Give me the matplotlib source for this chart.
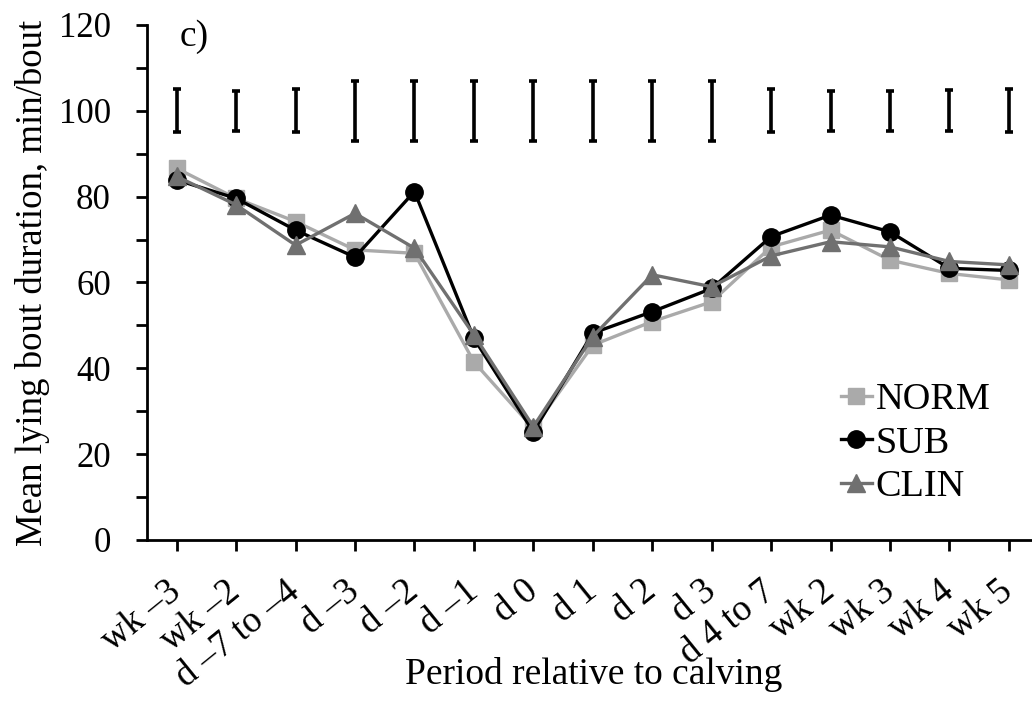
import matplotlib
matplotlib.use("Agg")
import matplotlib.pyplot as plt
from matplotlib.ticker import MultipleLocator

# periods relative to calving
periods = ["wk \u20133", "wk \u20132", "d \u20137 to \u20134", "d \u20133", "d \u20132", "d \u20131",
           "d 0", "d 1", "d 2", "d 3", "d 4 to 7", "wk 2", "wk 3", "wk 4", "wk 5"]

norm = [86.6, 79.6, 74.2, 67.6, 66.8, 41.5, 26.0, 45.4, 50.9, 55.5, 68.3, 72.2, 65.2, 62.1, 60.6]
sub = [83.9, 79.6, 72.2, 65.9, 81.2, 47.0, 25.2, 48.2, 53.2, 58.6, 70.7, 75.7, 71.8, 63.3, 62.8]
clin = [84.7, 78.1, 68.7, 76.1, 68.0, 47.8, 26.4, 47.4, 61.8, 59.0, 66.2, 69.5, 68.3, 64.9, 64.1]

# pooled SE bars drawn around 100
se_center = 100
se_half = [5.0, 4.6, 5.0, 7.0, 7.0, 7.0, 7.0, 7.0, 7.0, 7.0, 5.0, 4.6, 4.6, 4.8, 5.0]

plt.rcParams["font.family"] = ["Liberation Serif", "DejaVu Serif"]

fig = plt.figure(figsize=(10.32, 7.02), dpi=100)
ax = fig.add_axes([0.1424, 0.2308, 0.864, 0.7336])

x = list(range(len(periods)))
ax.errorbar(x, [se_center] * len(x), yerr=se_half, fmt="none", ecolor="black",
            elinewidth=2.6, capsize=3, capthick=2.6)

ms = 12.5
ax.plot(x, norm, color="#aaaaaa", marker="s", markersize=ms - 1, linewidth=2.4, label="NORM")
ax.plot(x, sub, color="black", marker="o", markersize=ms, linewidth=2.4, label="SUB")
ax.plot(x, clin, color="#707070", marker="^", markersize=ms, linewidth=2.4, label="CLIN")

ax.set_xlim(-0.5, 14.5)
ax.set_ylim(0, 120)
ax.yaxis.set_major_locator(MultipleLocator(20))
ax.yaxis.set_minor_locator(MultipleLocator(10))
ax.set_xticks(x)
ax.set_xticklabels(periods, rotation=39, ha="right", va="center",
                   rotation_mode="anchor", fontsize=26.5)
ax.tick_params(axis="both", which="both", direction="out", length=8, width=2)
ax.tick_params(axis="y", labelsize=25, pad=18)
ax.tick_params(axis="x", pad=26)

for side in ("top", "right"):
    ax.spines[side].set_visible(False)
for side in ("left", "bottom"):
    ax.spines[side].set_linewidth(2)

ax.set_ylabel("Mean lying bout duration, min/bout", fontsize=26.5, labelpad=6)
ax.set_xlabel("Period relative to calving", fontsize=27)
ax.xaxis.set_label_coords(0.501, -0.228)
ax.text(0.037, 1.01, "c)", transform=ax.transAxes, fontsize=27, va="top", ha="left")

ax.legend(loc="lower right", bbox_to_anchor=(0.963, 0.04), frameon=False, fontsize=27.5,
          handlelength=0.8, handletextpad=0.1, borderaxespad=0, labelspacing=0.23)

fig.savefig("out.png", dpi=100)
